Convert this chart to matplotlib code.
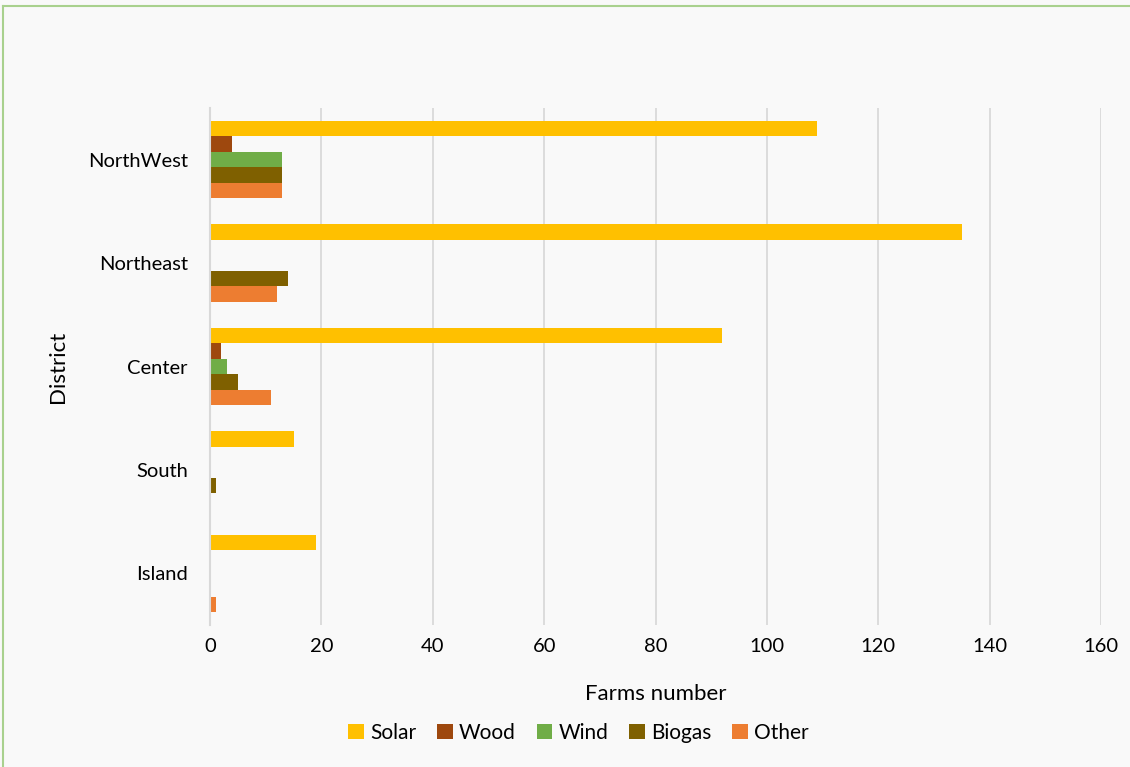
import matplotlib
matplotlib.use("Agg")
import matplotlib.pyplot as plt
from matplotlib.lines import Line2D
import numpy as np

plt.rcParams['font.family'] = ['Lato', 'DejaVu Sans']

districts = ["NorthWest", "Northeast", "Center", "South", "Island"]
series = ["Solar", "Wood", "Wind", "Biogas", "Other"]
solar = [109, 135, 92, 15, 19]
wood = [4, 0, 2, 0, 0]
wind = [13, 0, 3, 0, 0]
biogas = [13, 14, 5, 1, 0]
other = [13, 12, 11, 0, 1]
values = [solar, wood, wind, biogas, other]
colors = ["#FFC000", "#9E480E", "#70AD47", "#7F6000", "#ED7D31"]
xticks = [0, 20, 40, 60, 80, 100, 120, 140, 160]

fig = plt.figure(figsize=(11.3, 7.67), dpi=100)
fig.patch.set_facecolor("#F9F9F9")
ax = fig.add_axes([210/1130, 1-625/767, (1101-210)/1130, (625-108)/767])
ax.set_facecolor("#F9F9F9")

n = len(districts)
bh = 0.15
ypos = np.arange(n)[::-1].astype(float)
for i, (name, vals, c) in enumerate(zip(series, values, colors)):
    offs = (2 - i) * bh
    ax.barh(ypos + offs, vals, height=bh, color=c, label=name, zorder=3)

ax.set_ylim(-0.5, n - 0.5)
ax.set_xlim(0, 160)
ax.set_xticks(xticks)
ax.set_yticks(ypos)
ax.set_yticklabels(districts)
ax.grid(axis="x", color="#D9D9D9", linewidth=1.3, zorder=0)
for s in ["top", "right", "bottom"]:
    ax.spines[s].set_visible(False)
ax.spines["left"].set_color("#D9D9D9")
ax.spines["left"].set_linewidth(1.5)
ax.spines["left"].set_zorder(4)
ax.tick_params(axis="both", length=0, labelsize=14.5, colors="#000000")
ax.tick_params(axis="x", pad=9)
ax.tick_params(axis="y", pad=16)
ax.set_xlabel("Farms number", fontsize=16, labelpad=21)
ax.set_ylabel("District", fontsize=16, labelpad=14)

leg = fig.legend(loc="center", bbox_to_anchor=(0.512, 1-733/767), ncol=5,
                 frameon=False, fontsize=15, handlelength=0.75, handleheight=0.75,
                 handletextpad=0.3, columnspacing=1.0)

fig.add_artist(Line2D([3/1130, 3/1130], [0, 1-6/767], color="#A9D18E", linewidth=1.5))
fig.add_artist(Line2D([3/1130, 1.0], [1-6/767, 1-6/767], color="#A9D18E", linewidth=1.5))

fig.savefig("out.png", dpi=100, facecolor=fig.get_facecolor())
